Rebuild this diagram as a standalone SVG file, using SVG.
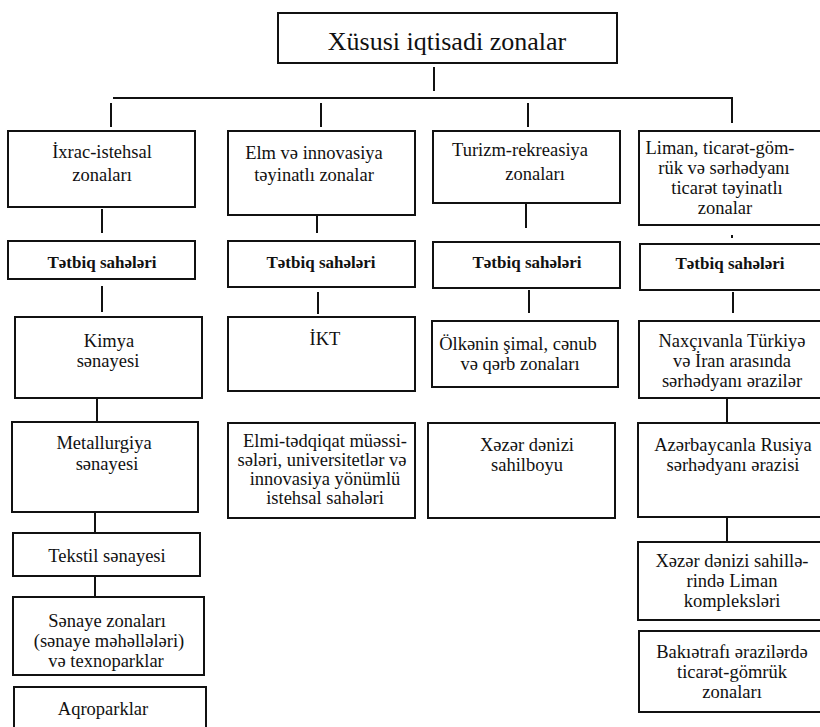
<svg xmlns="http://www.w3.org/2000/svg" width="820" height="727" viewBox="0 0 820 727">
<style>
rect{fill:#fff;stroke:#111;stroke-width:2}
line{stroke:#111;stroke-width:2}
text{font-size:18.5px;fill:#111;text-anchor:middle}
.t{font-size:26px}
.b{font-weight:bold;font-size:17px}
</style>
<rect x="0" y="0" width="820" height="727" style="fill:#fff;stroke:none"/>
<g id="connectors">
<line x1="434" y1="67" x2="434" y2="91"/>
<line x1="113" y1="98" x2="733" y2="98"/>
<line x1="111" y1="103" x2="111" y2="127"/>
<line x1="321" y1="103" x2="321" y2="127"/>
<line x1="528" y1="103" x2="528" y2="127"/>
<line x1="732" y1="98" x2="732" y2="123"/>
<line x1="102" y1="209" x2="102" y2="233"/>
<line x1="317" y1="212" x2="317" y2="233"/>
<line x1="526" y1="204" x2="526" y2="228"/>
<line x1="732" y1="235" x2="732" y2="238"/>
<line x1="102" y1="286" x2="102" y2="312"/>
<line x1="318" y1="292" x2="318" y2="314"/>
<line x1="529" y1="290" x2="529" y2="313"/>
<line x1="733" y1="292" x2="733" y2="313"/>
<line x1="97" y1="398" x2="97" y2="422"/>
<line x1="727" y1="398" x2="727" y2="423"/>
<line x1="95" y1="509" x2="95" y2="533"/>
<line x1="727" y1="517" x2="727" y2="542"/>
<line x1="95" y1="573" x2="95" y2="597"/>
</g>
<g font-family="Liberation Serif, Times New Roman, serif">
<g id="root"><rect x="278" y="13" width="339" height="50"/><text class="t" x="447" y="50">Xüsusi iqtisadi zonalar</text></g>
<g id="a1"><rect x="8" y="131" width="187" height="76"/><text x="102" y="158">İxrac-istehsal</text><text x="102" y="181">zonaları</text></g>
<g id="b1"><rect x="228" y="131" width="187" height="84"/><text x="314" y="159">Elm və innovasiya</text><text x="314" y="181">təyinatlı  zonalar</text></g>
<g id="c1"><rect x="433" y="131" width="187" height="72"/><text x="520" y="156">Turizm-rekreasiya</text><text x="535" y="180">zonaları</text></g>
<g id="d1"><rect x="639" y="131" width="184" height="94"/><text x="720" y="154">Liman, ticarət-göm-</text><text x="724" y="174">rük və sərhədyanı</text><text x="727" y="194">ticarət təyinatlı</text><text x="725" y="214">zonalar</text></g>
<g id="a2"><rect x="8" y="241" width="187" height="38"/><text class="b" x="102" y="268">Tətbiq sahələri</text></g>
<g id="b2"><rect x="228" y="241" width="187" height="46"/><text class="b" x="321" y="268">Tətbiq sahələri</text></g>
<g id="c2"><rect x="433" y="242" width="187" height="46"/><text class="b" x="527" y="268">Tətbiq sahələri</text></g>
<g id="d2"><rect x="640" y="244" width="183" height="46"/><text class="b" x="730" y="269">Tətbiq sahələri</text></g>
<g id="a3"><rect x="15" y="317" width="187" height="81"/><text x="109" y="347">Kimya</text><text x="108" y="367">sənayesi</text></g>
<g id="b3"><rect x="228" y="317" width="187" height="74"/><text x="325" y="345">İKT</text></g>
<g id="c3"><rect x="432" y="321" width="186" height="66"/><text x="518" y="350">Ölkənin şimal, cənub</text><text x="520" y="370">və qərb zonaları</text></g>
<g id="d3"><rect x="639" y="321" width="184" height="77"/><text x="732" y="347">Naxçıvanla Türkiyə</text><text x="732" y="367">və İran arasında</text><text x="732" y="387">sərhədyanı ərazilər</text></g>
<g id="a4"><rect x="12" y="422" width="186" height="90"/><text x="104" y="449">Metallurgiya</text><text x="107" y="470">sənayesi</text></g>
<g id="b4"><rect x="228" y="423" width="187" height="95"/><text x="325" y="447">Elmi-tədqiqat müəssi-</text><text x="322" y="466">sələri, universitetlər və</text><text x="325" y="485">innovasiya yönümlü</text><text x="325" y="504">istehsal sahələri</text></g>
<g id="c4"><rect x="428" y="423" width="187" height="95"/><text x="527" y="451">Xəzər dənizi</text><text x="527" y="471">sahilboyu</text></g>
<g id="d4"><rect x="638" y="423" width="185" height="94"/><text x="733" y="451">Azərbaycanla Rusiya</text><text x="733" y="471">sərhədyanı ərazisi</text></g>
<g id="a5"><rect x="13" y="533" width="187" height="43"/><text x="107" y="562">Tekstil sənayesi</text></g>
<g id="d5"><rect x="638" y="542" width="185" height="78"/><text x="732" y="567">Xəzər dənizi sahillə-</text><text x="732" y="587">rində Liman</text><text x="732" y="607">kompleksləri</text></g>
<g id="a6"><rect x="13" y="597" width="191" height="78"/><text x="107" y="627">Sənaye zonaları</text><text x="109" y="647">(sənaye məhəllələri)</text><text x="106" y="667">və texnoparklar</text></g>
<g id="d6"><rect x="639" y="631" width="184" height="81"/><text x="732" y="658">Bakıətrafı ərazilərdə</text><text x="732" y="678">ticarət-gömrük</text><text x="732" y="698">zonaları</text></g>
<g id="a7"><rect x="14" y="687" width="192" height="50"/><text x="103" y="715">Aqroparklar</text></g>
</g>
</svg>
